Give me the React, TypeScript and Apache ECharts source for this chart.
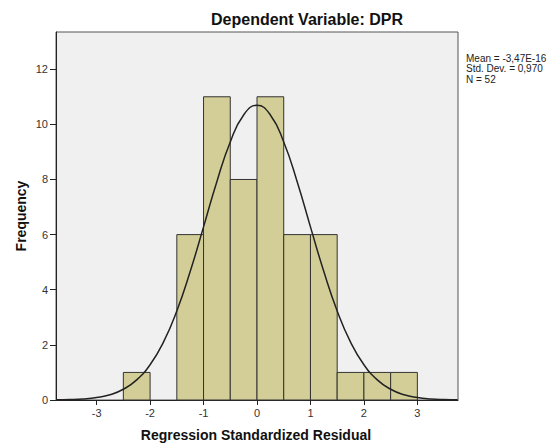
import React, { useEffect, useRef } from "react";
import * as echarts from "echarts";

// Histogram bins: [lower edge, upper edge, frequency]
const binLower = [-2.5, -2.0, -1.5, -1.0, -0.5, 0.0, 0.5, 1.0, 1.5, 2.0, 2.5];
const binUpper = [-2.0, -1.5, -1.0, -0.5, 0.0, 0.5, 1.0, 1.5, 2.0, 2.5, 3.0];
const frequencies = [1, 0, 6, 11, 8, 11, 6, 6, 1, 1, 1];

// Normal curve (x, frequency)
const curveX = [
  -3.75, -3.5, -3.25, -3.0, -2.75, -2.5, -2.25, -2.0, -1.75, -1.5, -1.25, -1.0, -0.75, -0.5, -0.25,
  0.0, 0.25, 0.5, 0.75, 1.0, 1.25, 1.5, 1.75, 2.0, 2.25, 2.5, 2.75, 3.0, 3.25, 3.5, 3.75,
];
const curveY = [
  0.006, 0.016, 0.039, 0.09, 0.19, 0.39, 0.73, 1.28, 2.1, 3.23, 4.66, 6.28, 7.93, 9.36, 10.34,
  10.69, 10.34, 9.36, 7.93, 6.28, 4.66, 3.23, 2.1, 1.28, 0.73, 0.39, 0.19, 0.09, 0.039, 0.016, 0.006,
];

const xTicks = [-3, -2, -1, 0, 1, 2, 3];
const yTicks = [0, 2, 4, 6, 8, 10, 12];

const titleText = "Dependent Variable: DPR";
const statsLines = ["Mean = -3,47E-16", "Std. Dev. = 0,970", "N = 52"];
const xAxisTitle = "Regression Standardized Residual";
const yAxisTitle = "Frequency";

const FONT = "'Liberation Sans', Arial, sans-serif";

export default function App() {
  const ref = useRef<HTMLDivElement>(null);

  useEffect(() => {
    if (!ref.current) return;
    document.body.style.margin = "0";
    const chart = echarts.init(ref.current, null, { renderer: "svg" });

    const barData = binLower.map((lo, i) => [lo, binUpper[i], frequencies[i]]);
    const lineData = curveX.map((x, i) => [x, curveY[i]]);

    chart.setOption({
      animation: false,
      backgroundColor: "#ffffff",
      grid: {
        left: 56,
        right: 100,
        top: 32,
        bottom: 44,
        show: true,
        backgroundColor: "#F0F0F0",
        borderColor: "#555555",
        borderWidth: 1,
      },
      xAxis: {
        type: "value",
        min: -3.76,
        max: 3.76,
        splitLine: { show: false },
        axisLine: { show: true, onZero: false, lineStyle: { color: "#222222", width: 1 } },
        axisTick: {
          show: true,
          inside: false,
          length: 5,
          customValues: xTicks,
          lineStyle: { color: "#222222" },
        },
        axisLabel: {
          customValues: xTicks,
          color: "#333333",
          fontFamily: FONT,
          fontSize: 11,
          margin: 7,
        },
      },
      yAxis: {
        type: "value",
        min: 0,
        max: 13.35,
        splitLine: { show: false },
        axisLine: { show: true, onZero: false, lineStyle: { color: "#222222", width: 1 } },
        axisTick: {
          show: true,
          inside: false,
          length: 6,
          customValues: yTicks,
          lineStyle: { color: "#222222" },
        },
        axisLabel: {
          customValues: yTicks,
          color: "#333333",
          fontFamily: FONT,
          fontSize: 11,
          margin: 8,
        },
      },
      series: [
        {
          type: "custom",
          data: barData,
          encode: { x: [0, 1], y: 2 },
          renderItem: (params: any, api: any) => {
            const lo = api.value(0);
            const hi = api.value(1);
            const f = api.value(2);
            if (!f) return null;
            const p0 = api.coord([lo, f]);
            const p1 = api.coord([hi, 0]);
            return {
              type: "rect",
              shape: { x: p0[0], y: p0[1], width: p1[0] - p0[0], height: p1[1] - p0[1] },
              style: { fill: "#D3CE97", stroke: "#333333", lineWidth: 1 },
            };
          },
          z: 2,
        },
        {
          type: "line",
          data: lineData,
          smooth: true,
          showSymbol: false,
          symbol: "none",
          lineStyle: { color: "#222222", width: 1.5 },
          z: 3,
        },
      ],
      graphic: [
        {
          type: "text",
          x: 211,
          y: 19,
          style: {
            text: titleText,
            fontFamily: FONT,
            fontSize: 16,
            fontWeight: "bold",
            fill: "#111111",
            align: "left",
            verticalAlign: "middle",
          },
        },
        {
          type: "text",
          left: 466,
          top: 53,
          style: {
            text: statsLines.join("\n"),
            fontFamily: FONT,
            fontSize: 10,
            lineHeight: 10.5,
            fill: "#222222",
          },
        },
        {
          type: "text",
          x: 256,
          y: 435,
          style: {
            text: xAxisTitle,
            fontFamily: FONT,
            fontSize: 14,
            fontWeight: "bold",
            fill: "#111111",
            align: "center",
            verticalAlign: "middle",
          },
        },
        {
          type: "text",
          x: 21,
          y: 216,
          rotation: Math.PI / 2,
          style: {
            text: yAxisTitle,
            fontFamily: FONT,
            fontSize: 14,
            fontWeight: "bold",
            fill: "#111111",
            align: "center",
            verticalAlign: "middle",
          },
        },
      ],
    });

    return () => chart.dispose();
  }, []);

  return <div ref={ref} style={{ width: 558, height: 444 }} />;
}
